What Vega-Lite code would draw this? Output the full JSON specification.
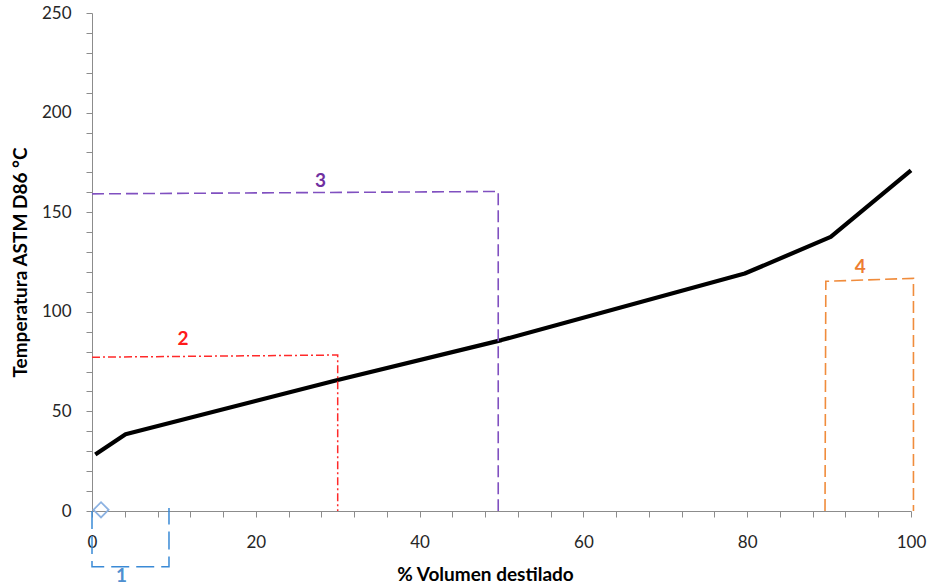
{
  "$schema": "https://vega.github.io/schema/vega-lite/v6.json",
  "width": 819,
  "height": 498,
  "autosize": {"type": "none"},
  "padding": {"left": 92, "top": 13, "right": 19, "bottom": 77},
  "background": "white",
  "config": {
    "view": {"stroke": null},
    "font": "Lato",
    "axis": {
      "grid": false,
      "domainColor": "#8c8c8c",
      "tickColor": "#8c8c8c",
      "tickSize": 6,
      "labelFont": "Lato",
      "labelFontSize": 17,
      "labelColor": "#262626",
      "labelOverlap": false,
      "labelFlush": false,
      "titleFont": "Lato",
      "titleFontSize": 19,
      "titleFontWeight": "bold",
      "titleColor": "#000000"
    }
  },
  "resolve": {"axis": {"x": "independent", "y": "independent"}},
  "datasets": {
    "curve": [
      {"x": 0.4, "y": 28.4},
      {"x": 4.1, "y": 38.5},
      {"x": 30, "y": 65.8},
      {"x": 50, "y": 85.8},
      {"x": 79.7, "y": 119.2},
      {"x": 90.2, "y": 137.6},
      {"x": 100, "y": 171}
    ],
    "g1": [
      {"i": 0, "x": 0, "y": 0},
      {"i": 1, "x": 0, "y": -28},
      {"i": 2, "x": 9.4, "y": -28},
      {"i": 3, "x": 9.4, "y": 1.5}
    ],
    "g2": [
      {"i": 0, "x": 0, "y": 77.2},
      {"i": 1, "x": 30, "y": 78.3},
      {"i": 2, "x": 30, "y": 0}
    ],
    "g3": [
      {"i": 0, "x": 0, "y": 159.2},
      {"i": 1, "x": 49.6, "y": 160.4},
      {"i": 2, "x": 49.6, "y": 0}
    ],
    "g4": [
      {"i": 0, "x": 89.5, "y": 0},
      {"i": 1, "x": 89.6, "y": 115.3},
      {"i": 2, "x": 100.3, "y": 116.8},
      {"i": 3, "x": 100.3, "y": 0}
    ],
    "labels": [
      {"t": "1", "x": 3.6, "y": -32.5, "c": "1"},
      {"t": "2", "x": 11.1, "y": 86.5, "c": "2"},
      {"t": "3", "x": 27.9, "y": 165.5, "c": "3"},
      {"t": "4", "x": 93.8, "y": 122.5, "c": "4"}
    ],
    "marker": [{"x": 1.1, "y": 0.6}]
  },
  "layer": [
    {
      "data": {"name": "curve"},
      "mark": {"type": "line", "color": "#000000", "strokeWidth": 4.2, "strokeJoin": "round", "clip": false},
      "encoding": {
        "x": {
          "field": "x", "type": "quantitative",
          "scale": {"domain": [0, 100], "nice": false, "zero": false},
          "axis": {
            "orient": "bottom",
            "values": [0, 20, 40, 60, 80, 100],
            "labelOverlap": false,
            "labelFlush": false,
            "labelPadding": 17,
            "title": "% Volumen destilado",
            "titleX": 393,
            "titleY": 69,
            "titleAnchor": null,
            "titleAlign": "center",
            "titleBaseline": "alphabetic"
          }
        },
        "y": {
          "field": "y", "type": "quantitative",
          "scale": {"domain": [0, 250], "nice": false},
          "axis": {
            "orient": "left",
            "values": [0, 50, 100, 150, 200, 250],
            "labelOverlap": false,
            "labelPadding": 15,
            "title": "Temperatura ASTM D86 °C",
            "titleX": -72,
            "titleY": 249,
            "titleAngle": -90,
            "titleAlign": "center",
            "titleBaseline": "middle"
          }
        }
      }
    },
    {
      "data": {"name": "g1"},
      "mark": {"type": "line", "color": "#3a8ad6", "strokeWidth": 1.5, "strokeDash": [18, 7], "clip": false},
      "encoding": {
        "x": {
          "field": "x", "type": "quantitative",
          "axis": {
            "orient": "bottom",
            "values": [4,8,12,16,24,28,32,36,44,48,52,56,64,68,72,76,84,88,92,96],
            "labels": false,
            "domain": false,
            "title": null
          }
        },
        "y": {
          "field": "y", "type": "quantitative",
          "axis": {
            "orient": "left",
            "values": [10,20,30,40,60,70,80,90,110,120,130,140,160,170,180,190,210,220,230,240],
            "labels": false,
            "domain": false,
            "title": null
          }
        },
        "order": {"field": "i"}
      }
    },
    {
      "data": {"name": "g2"},
      "mark": {"type": "line", "color": "#ff2a2a", "strokeWidth": 1.5, "strokeDash": [8, 3, 2, 3], "clip": false},
      "encoding": {
        "x": {"field": "x", "type": "quantitative", "axis": null},
        "y": {"field": "y", "type": "quantitative", "axis": null},
        "order": {"field": "i"}
      }
    },
    {
      "data": {"name": "g3"},
      "mark": {"type": "line", "color": "#8050c0", "strokeWidth": 1.6, "strokeDash": [12, 5], "clip": false},
      "encoding": {
        "x": {"field": "x", "type": "quantitative", "axis": null},
        "y": {"field": "y", "type": "quantitative", "axis": null},
        "order": {"field": "i"}
      }
    },
    {
      "data": {"name": "g4"},
      "mark": {"type": "line", "color": "#f08c3c", "strokeWidth": 1.6, "strokeDash": [12, 5], "clip": false},
      "encoding": {
        "x": {"field": "x", "type": "quantitative", "axis": null},
        "y": {"field": "y", "type": "quantitative", "axis": null},
        "order": {"field": "i"}
      }
    },
    {
      "data": {"name": "marker"},
      "mark": {"type": "point", "shape": "diamond", "filled": false, "color": "#8cb2e2", "opacity": 1, "size": 230, "strokeWidth": 1.8, "clip": false},
      "encoding": {
        "x": {"field": "x", "type": "quantitative", "axis": null},
        "y": {"field": "y", "type": "quantitative", "axis": null}
      }
    },
    {
      "data": {"name": "labels"},
      "mark": {"type": "text", "font": "Lato", "fontSize": 19, "fontWeight": "bold", "baseline": "middle", "align": "center", "clip": false},
      "encoding": {
        "x": {"field": "x", "type": "quantitative", "axis": null},
        "y": {"field": "y", "type": "quantitative", "axis": null},
        "text": {"field": "t"},
        "color": {
          "field": "c", "type": "nominal", "legend": null,
          "scale": {"domain": ["1", "2", "3", "4"], "range": ["#4f8fd0", "#ff1a1a", "#7030a0", "#ed7d31"]}
        }
      }
    }
  ]
}
